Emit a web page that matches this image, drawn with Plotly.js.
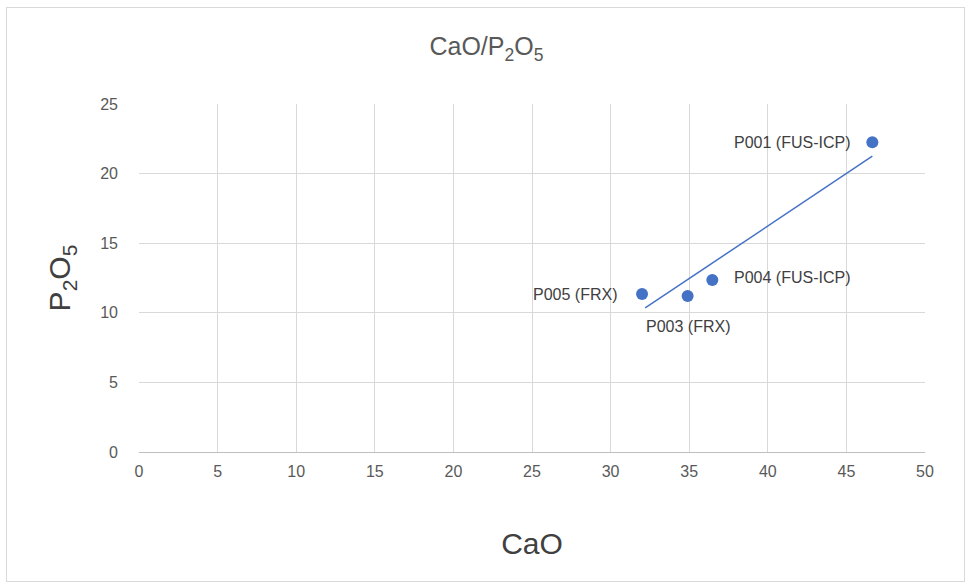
<!DOCTYPE html>
<html>
<head>
<meta charset="utf-8">
<script src="https://cdn.plot.ly/plotly-3.0.1.min.js"></script>
<style>
html,body{margin:0;padding:0;background:#fff;}
#chart{width:967px;height:583px;position:absolute;left:0;top:0;}
#frame{position:absolute;left:6px;top:7px;width:957px;height:573px;border:1px solid #d9d9d9;pointer-events:none;}
</style>
</head>
<body>
<div id="chart"></div>
<div id="frame"></div>
<script>
// Data
const sampleNames = ["P001 (FUS-ICP)", "P003 (FRX)", "P004 (FUS-ICP)", "P005 (FRX)"];
const cao = [46.65, 34.9, 36.47, 32.0];
const p2o5 = [22.25, 11.2, 12.36, 11.35];
// Trendline endpoints as drawn in the reference
const trendX = [32.2, 46.65];
const trendY = [10.35, 21.25];
const xTicks = [0, 5, 10, 15, 20, 25, 30, 35, 40, 45, 50];
const yTicks = [0, 5, 10, 15, 20, 25];

const font = "'Liberation Sans Narrow', 'Arial Narrow', 'Liberation Sans', Arial, sans-serif";
const blue = "#4472C4";

// label placement per point: [xanchor, yanchor, xshift, yshift]
const labelPlace = [
  ["right", "middle", -20, 0],
  ["center", "top", 0, -20],
  ["left", "middle", 20, 2],
  ["right", "middle", -23, 0]
];

const traces = [
  {
    x: trendX, y: trendY, type: "scatter", mode: "lines",
    line: {color: blue, width: 1.5}, hoverinfo: "skip", showlegend: false
  },
  {
    x: cao, y: p2o5, type: "scatter", mode: "markers",
    marker: {color: blue, size: 12}, text: sampleNames, showlegend: false
  }
];

const annotations = sampleNames.map((name, i) => ({
  x: cao[i], y: p2o5[i], xref: "x", yref: "y", text: name, showarrow: false,
  xanchor: labelPlace[i][0], yanchor: labelPlace[i][1],
  xshift: labelPlace[i][2], yshift: labelPlace[i][3],
  font: {family: font, size: 16, color: "#404040"}
}));

const layout = {
  width: 967, height: 583,
  margin: {l: 139, r: 42, t: 104, b: 131},
  paper_bgcolor: "#ffffff", plot_bgcolor: "#ffffff",
  showlegend: false,
  title: {
    text: "CaO/P<sub>2</sub>O<sub>5</sub>",
    font: {family: font, size: 25, color: "#595959"},
    x: 0.503, xref: "container", xanchor: "center",
    y: 0.92, yref: "container", yanchor: "middle"
  },
  xaxis: {
    range: [0, 50], tickvals: xTicks, ticktext: xTicks.map(String),
    showgrid: true, gridcolor: "#d9d9d9", gridwidth: 1,
    zeroline: false, showline: true, linecolor: "#bfbfbf", linewidth: 1,
    ticks: "", ticklabelstandoff: 5,
    tickfont: {family: font, size: 16, color: "#595959"},
    title: {text: "CaO", font: {family: font, size: 30, color: "#404040"}, standoff: 53}
  },
  yaxis: {
    range: [0, 25], tickvals: yTicks, ticktext: yTicks.map(String),
    showgrid: true, gridcolor: "#d9d9d9", gridwidth: 1,
    zeroline: false, showline: false,
    ticks: "", ticklabelstandoff: 20,
    tickfont: {family: font, size: 16, color: "#595959"},
    title: {text: "P<sub>2</sub>O<sub>5</sub>", font: {family: font, size: 30, color: "#404040"}, standoff: 20}
  },
  annotations: annotations
};

Plotly.newPlot("chart", traces, layout, {staticPlot: true, displayModeBar: false});
</script>
</body>
</html>
